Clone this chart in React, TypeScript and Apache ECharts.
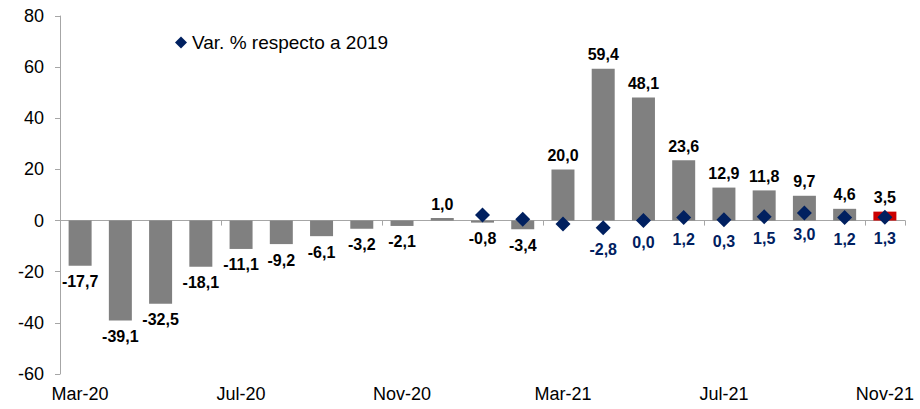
import React, { useEffect, useRef } from 'react';
import * as echarts from 'echarts';

const categories = [
  'Mar-20', 'Apr-20', 'May-20', 'Jun-20', 'Jul-20', 'Aug-20', 'Sep-20', 'Oct-20', 'Nov-20', 'Dec-20',
  'Jan-21', 'Feb-21', 'Mar-21', 'Apr-21', 'May-21', 'Jun-21', 'Jul-21', 'Aug-21', 'Sep-21', 'Oct-21', 'Nov-21',
];
const barValues = [
  -17.7, -39.1, -32.5, -18.1, -11.1, -9.2, -6.1, -3.2, -2.1, 1.0,
  -0.8, -3.4, 20.0, 59.4, 48.1, 23.6, 12.9, 11.8, 9.7, 4.6, 3.5,
];
const var2019: (number | null)[] = [
  null, null, null, null, null, null, null, null, null, null,
  2.2, 0.5, -1.3, -2.8, 0.0, 1.2, 0.3, 1.5, 3.0, 1.2, 1.3,
];
const var2019ShowLabel = [
  false, false, false, false, false, false, false, false, false, false,
  false, false, false, true, true, true, true, true, true, true, true,
];
const yMin = -60;
const yMax = 80;
const yInterval = 20;
const seriesName = 'Var. % respecto a 2019';

const fmt = (v: number) => v.toFixed(1).replace('.', ',');
const FONT = 'Liberation Sans, Arial, sans-serif';

export default function App() {
  const ref = useRef<HTMLDivElement>(null);
  useEffect(() => {
    if (!ref.current) return;
    const chart = echarts.init(ref.current, null, { renderer: 'svg' });
    const lastIdx = barValues.length - 1;
    const barData = barValues.map((v, i) => ({
      value: v,
      itemStyle: { color: i === lastIdx ? '#CC0000' : '#808080' },
      label: {
        position: v < 0 ? 'bottom' : 'top',
        distance: v < 0 ? 8 : 6,
      },
    }));
    const scatterData: any[] = [];
    var2019.forEach((v, i) => {
      if (v === null) return;
      scatterData.push({ value: [i, v], label: { show: var2019ShowLabel[i] } });
    });
    chart.setOption({
      animation: false,
      textStyle: { fontFamily: FONT },
      grid: { left: 60, right: 15, top: 16, bottom: 35, containLabel: false },
      legend: {
        data: [{ name: seriesName, icon: 'diamond' }],
        left: 170,
        top: 28,
        itemWidth: 12,
        itemHeight: 12,
        itemGap: 4,
        itemStyle: { opacity: 1 },
        textStyle: { fontSize: 19, color: '#000', fontFamily: FONT },
      },
      xAxis: [
        {
          type: 'category',
          data: categories,
          position: 'bottom',
          axisLine: { show: false, onZero: false },
          axisTick: { show: false },
          axisLabel: { interval: 3, fontSize: 18, color: '#000', margin: 11, fontFamily: FONT },
        },
        {
          type: 'category',
          data: categories,
          position: 'bottom',
          axisLine: { show: true, onZero: true, lineStyle: { color: '#A6A6A6', width: 1 } },
          axisTick: { show: true, interval: 3, length: 5, lineStyle: { color: '#A6A6A6' } },
          axisLabel: { show: false },
        },
      ],
      yAxis: {
        type: 'value',
        min: yMin,
        max: yMax,
        interval: yInterval,
        splitLine: { show: false },
        axisLine: { show: true, lineStyle: { color: '#A6A6A6', width: 1 } },
        axisTick: { show: true, length: 5, lineStyle: { color: '#A6A6A6' } },
        axisLabel: { fontSize: 18, color: '#000', margin: 16, fontFamily: FONT },
      },
      series: [
        {
          type: 'bar',
          name: 'Bars',
          xAxisIndex: 0,
          data: barData,
          barWidth: 23,
          label: {
            show: true,
            fontSize: 16,
            fontWeight: 'bold',
            color: '#000',
            fontFamily: FONT,
            formatter: (p: any) => fmt(p.value),
          },
        },
        {
          type: 'scatter',
          name: seriesName,
          xAxisIndex: 0,
          data: scatterData,
          symbol: 'diamond',
          symbolSize: 15,
          itemStyle: { color: '#002060', opacity: 1 },
          z: 5,
          label: {
            show: true,
            position: 'bottom',
            distance: 6,
            fontSize: 16,
            fontWeight: 'bold',
            color: '#002060',
            fontFamily: FONT,
            formatter: (p: any) => fmt(p.value[1]),
          },
        },
      ],
    });
    return () => chart.dispose();
  }, []);
  return <div ref={ref} style={{ position: 'absolute', left: 0, top: 0, width: 920, height: 409 }} />;
}
